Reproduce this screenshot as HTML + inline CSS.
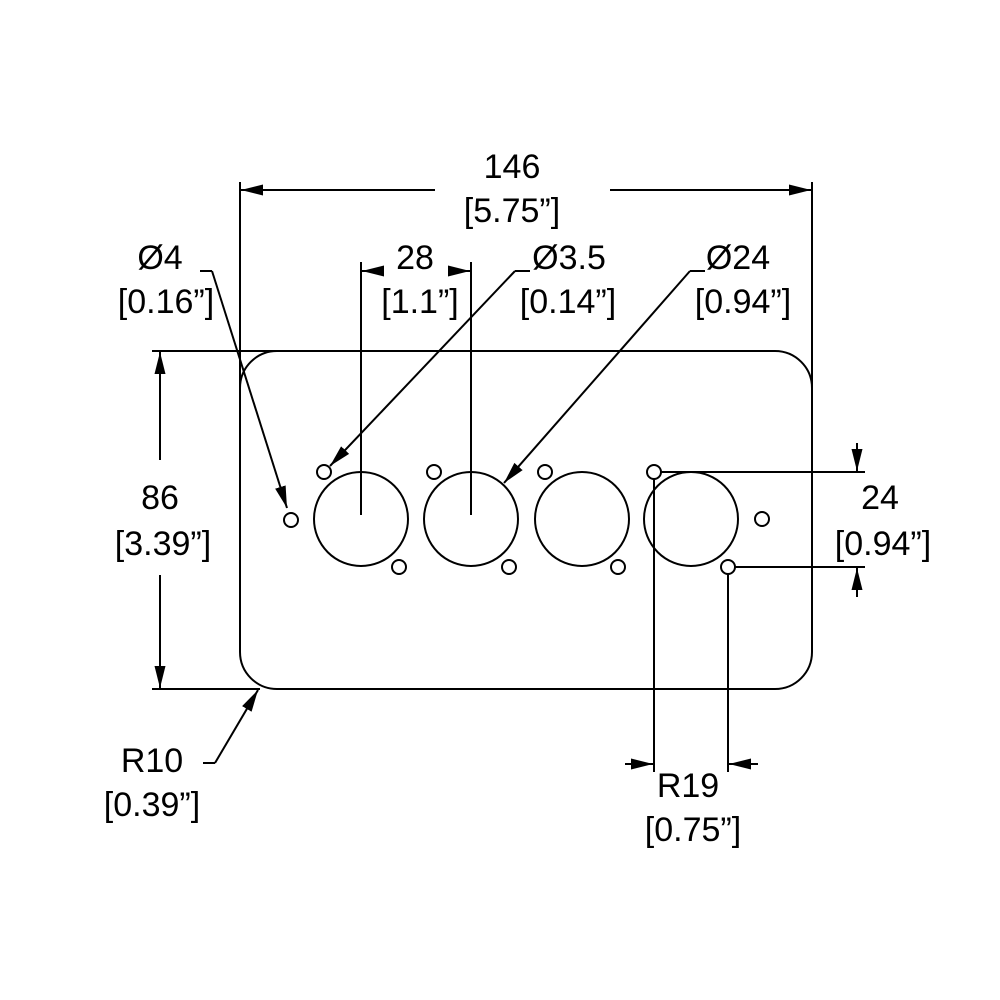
<!DOCTYPE html>
<html><head><style>body{margin:0;background:#fff}svg{display:block}</style></head><body>
<svg width="1000" height="1000" viewBox="0 0 1000 1000" xmlns="http://www.w3.org/2000/svg">
<defs><marker id="a" markerWidth="24" markerHeight="12" refX="22" refY="6" orient="auto" markerUnits="userSpaceOnUse"><path d="M0,0.5 L22,6 L0,11.5 z" fill="#000"/></marker></defs>
<g fill="none" stroke="#000" stroke-width="2">
<rect x="240" y="351" width="572" height="338" rx="37" ry="37"/>
<circle cx="361" cy="519" r="47"/><circle cx="471" cy="519" r="47"/><circle cx="582" cy="519" r="47"/><circle cx="691" cy="519" r="47"/>
<circle cx="324" cy="472" r="7"/><circle cx="434" cy="472" r="7"/><circle cx="545" cy="472" r="7"/><circle cx="654" cy="472" r="7"/>
<circle cx="399" cy="567" r="7"/><circle cx="509" cy="567" r="7"/><circle cx="618" cy="567" r="7"/><circle cx="728" cy="567" r="7"/>
<circle cx="291" cy="520" r="7"/><circle cx="762" cy="519" r="7"/>
<line x1="240" y1="182" x2="240" y2="400"/><line x1="812" y1="182" x2="812" y2="390"/>
<line x1="435" y1="190" x2="241" y2="190" marker-end="url(#a)"/><line x1="610" y1="190" x2="811" y2="190" marker-end="url(#a)"/>
<line x1="361" y1="262" x2="361" y2="515"/><line x1="471" y1="262" x2="471" y2="515"/>
<line x1="382" y1="271" x2="362" y2="271" marker-end="url(#a)"/><line x1="450" y1="271" x2="470" y2="271" marker-end="url(#a)"/>
<line x1="200" y1="271" x2="212" y2="271"/><line x1="212" y1="271" x2="287" y2="508" marker-end="url(#a)"/>
<line x1="530" y1="271" x2="515" y2="271"/><line x1="515" y1="271" x2="330" y2="466" marker-end="url(#a)"/>
<line x1="705" y1="271" x2="690" y2="271"/><line x1="690" y1="271" x2="504" y2="483" marker-end="url(#a)"/>
<line x1="152" y1="351" x2="290" y2="351"/><line x1="152" y1="689" x2="260" y2="689"/>
<line x1="160" y1="460" x2="160" y2="352" marker-end="url(#a)"/><line x1="160" y1="575" x2="160" y2="688" marker-end="url(#a)"/>
<line x1="203" y1="763" x2="215" y2="763"/><line x1="215" y1="763" x2="258" y2="690" marker-end="url(#a)"/>
<line x1="661" y1="472" x2="865" y2="472"/><line x1="735" y1="567" x2="865" y2="567"/>
<line x1="857" y1="443" x2="857" y2="471" marker-end="url(#a)"/><line x1="857" y1="597" x2="857" y2="568" marker-end="url(#a)"/>
<line x1="654" y1="479" x2="654" y2="772"/><line x1="728" y1="574" x2="728" y2="772"/>
<line x1="625" y1="764" x2="653" y2="764" marker-end="url(#a)"/><line x1="758" y1="764" x2="729" y2="764" marker-end="url(#a)"/>
</g>
<g font-family="Liberation Sans, sans-serif" font-size="34" text-anchor="middle" fill="#000">
<text x="512" y="178">146</text><text x="512" y="222">[5.75”]</text>
<text x="160" y="269">Ø4</text><text x="166" y="313">[0.16”]</text>
<text x="415" y="269">28</text><text x="420" y="313">[1.1”]</text>
<text x="569" y="269">Ø3.5</text><text x="568" y="313">[0.14”]</text>
<text x="738" y="269">Ø24</text><text x="743" y="313">[0.94”]</text>
<text x="160" y="509">86</text><text x="163" y="555">[3.39”]</text>
<text x="880" y="509">24</text><text x="883" y="555">[0.94”]</text>
<text x="152" y="772">R10</text><text x="152" y="816">[0.39”]</text>
<text x="688" y="797">R19</text><text x="693" y="841">[0.75”]</text>
</g>
</svg>
</body></html>
